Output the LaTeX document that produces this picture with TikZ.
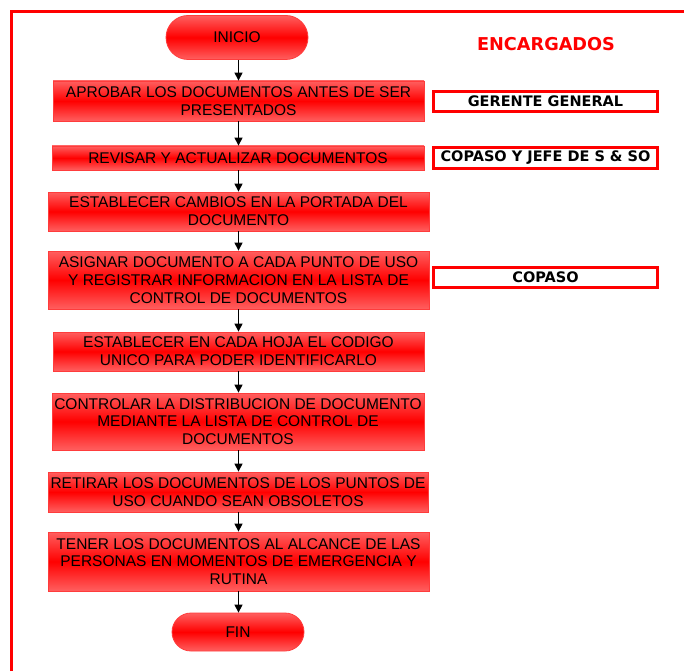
\documentclass[tikz,border=0pt]{standalone}
\usepackage{fontspec}
\usetikzlibrary{shapes.misc,arrows.meta}
\newfontfamily\stepfont{Liberation Sans}
\newfontfamily\tagfont{DejaVu Sans Bold}

\definecolor{framered}{RGB}{255,0,0}
\definecolor{boxlight}{RGB}{255,95,95}
\definecolor{boxedge}{RGB}{255,60,60}

\tikzset{
  stepbox/.style={rectangle, draw=boxedge, line width=0.8pt,
    top color=boxlight, bottom color=boxlight, middle color=red,
    inner sep=0pt, align=center, text=black,
    font=\stepfont\fontsize{15.5}{17.7}\selectfont},
  terminal/.style={rounded rectangle, draw=boxedge, line width=0.8pt,
    top color=boxlight, bottom color=boxlight, middle color=red,
    inner sep=0pt, align=center, text=black,
    font=\stepfont\fontsize{15.5}{17.7}\selectfont},
  rolebox/.style={rectangle, draw=framered, line width=3pt, fill=white,
    minimum width=224pt, minimum height=20pt, inner sep=0pt,
    font=\tagfont\fontsize{14.5}{16}\selectfont},
  flow/.style={draw=black, line width=1.2pt,
    -{Triangle[length=8pt,width=8pt]}}
}

\begin{document}
\begin{tikzpicture}[x=1pt,y=-1pt]
\useasboundingbox (0,0) rectangle (684,671);

% outer frame
\draw[framered, line width=3pt] (11,671) -- (11,11.7) -- (684,11.7);

% heading of the responsibility column
\node (head) at (546,44) {\tagfont\fontsize{17.7}{20}\selectfont\color{framered}ENCARGADOS};

% process steps
\node[terminal, minimum width=142pt, minimum height=44pt] (inicio) at (237,37.5) {INICIO};
\node[stepbox, minimum width=371pt, minimum height=40pt] (s1) at (238.5,101)
  {APROBAR LOS DOCUMENTOS ANTES DE SER\\PRESENTADOS};
\node[stepbox, minimum width=372pt, minimum height=24pt] (s2) at (238,158)
  {REVISAR Y ACTUALIZAR DOCUMENTOS};
\node[stepbox, minimum width=381pt, minimum height=39pt] (s3) at (238.5,211.5)
  {ESTABLECER CAMBIOS EN LA PORTADA DEL\\DOCUMENTO};
\node[stepbox, minimum width=381pt, minimum height=58pt] (s4) at (238.5,280)
  {ASIGNAR DOCUMENTO A CADA PUNTO DE USO\\Y REGISTRAR INFORMACION EN LA LISTA DE\\CONTROL DE DOCUMENTOS};
\node[stepbox, minimum width=371pt, minimum height=39pt] (s5) at (238.5,351.5)
  {ESTABLECER EN CADA HOJA EL CODIGO\\UNICO PARA PODER IDENTIFICARLO};
\node[stepbox, minimum width=372pt, minimum height=57pt] (s6) at (238,421.5)
  {CONTROLAR LA DISTRIBUCION DE DOCUMENTO\\MEDIANTE LA LISTA DE CONTROL DE\\DOCUMENTOS};
\node[stepbox, minimum width=380pt, minimum height=40pt] (s7) at (238,492)
  {RETIRAR LOS DOCUMENTOS DE LOS PUNTOS DE\\USO CUANDO SEAN OBSOLETOS};
\node[stepbox, minimum width=381pt, minimum height=59pt] (s8) at (238.5,561.5)
  {TENER LOS DOCUMENTOS AL ALCANCE DE LAS\\PERSONAS EN MOMENTOS DE EMERGENCIA Y\\RUTINA};
\node[terminal, minimum width=132pt, minimum height=38pt] (fin) at (238,632) {FIN};

% responsible parties
\node[rolebox] (r1) at (545.5,101.5) {GERENTE GENERAL};
\node[rolebox] (r2) at (545.5,158) {COPASO Y JEFE DE S \& SO};
\node[rolebox] (r3) at (545.5,277.5) {COPASO};

% connectors
\coordinate (axis) at (238.5,0);
\foreach \a/\b in {inicio/s1, s1/s2, s2/s3, s3/s4, s4/s5, s5/s6, s6/s7, s7/s8, s8/fin}
  \draw[flow] (axis |- \a.south) -- (axis |- \b.north);
\end{tikzpicture}
\end{document}
